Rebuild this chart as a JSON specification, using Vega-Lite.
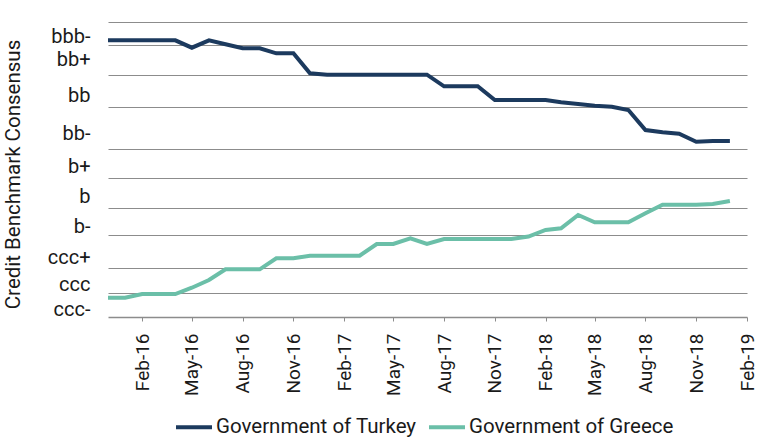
{
  "$schema": "https://vega.github.io/schema/vega-lite/v6.json",
  "autosize": "none",
  "width": 639,
  "height": 295,
  "padding": {"left": 108, "top": 22, "right": 21, "bottom": 127},
  "background": "white",
  "config": {
    "view": {"stroke": null},
    "font": "Roboto",
    "axis": {"labelFont": "Roboto", "titleFont": "Roboto", "labelColor": "#1a1a1a", "titleColor": "#1a1a1a"}
  },
  "data": {
    "values": [
      {"date": "2015-12-01", "Government of Turkey": 276.7, "Government of Greece": 19.3},
      {"date": "2016-01-01", "Government of Turkey": 276.7, "Government of Greece": 19.3},
      {"date": "2016-02-01", "Government of Turkey": 276.7, "Government of Greece": 23},
      {"date": "2016-03-01", "Government of Turkey": 276.7, "Government of Greece": 23},
      {"date": "2016-04-01", "Government of Turkey": 276.7, "Government of Greece": 23},
      {"date": "2016-05-01", "Government of Turkey": 269.3, "Government of Greece": 29.3},
      {"date": "2016-06-01", "Government of Turkey": 276.7, "Government of Greece": 37},
      {"date": "2016-07-01", "Government of Turkey": 272.7, "Government of Greece": 47.7},
      {"date": "2016-08-01", "Government of Turkey": 268.7, "Government of Greece": 47.7},
      {"date": "2016-09-01", "Government of Turkey": 268.7, "Government of Greece": 47.7},
      {"date": "2016-10-01", "Government of Turkey": 263.7, "Government of Greece": 58.7},
      {"date": "2016-11-01", "Government of Turkey": 263.7, "Government of Greece": 58.7},
      {"date": "2016-12-01", "Government of Turkey": 243.7, "Government of Greece": 61.3},
      {"date": "2017-01-01", "Government of Turkey": 242.3, "Government of Greece": 61.3},
      {"date": "2017-02-01", "Government of Turkey": 242.3, "Government of Greece": 61.3},
      {"date": "2017-03-01", "Government of Turkey": 242.3, "Government of Greece": 61.3},
      {"date": "2017-04-01", "Government of Turkey": 242.3, "Government of Greece": 73},
      {"date": "2017-05-01", "Government of Turkey": 242.3, "Government of Greece": 73},
      {"date": "2017-06-01", "Government of Turkey": 242.3, "Government of Greece": 78.7},
      {"date": "2017-07-01", "Government of Turkey": 242.3, "Government of Greece": 73},
      {"date": "2017-08-01", "Government of Turkey": 230.7, "Government of Greece": 78},
      {"date": "2017-09-01", "Government of Turkey": 230.7, "Government of Greece": 78},
      {"date": "2017-10-01", "Government of Turkey": 230.7, "Government of Greece": 78},
      {"date": "2017-11-01", "Government of Turkey": 217, "Government of Greece": 78},
      {"date": "2017-12-01", "Government of Turkey": 217, "Government of Greece": 78},
      {"date": "2018-01-01", "Government of Turkey": 217, "Government of Greece": 80.5},
      {"date": "2018-02-01", "Government of Turkey": 217, "Government of Greece": 87},
      {"date": "2018-03-01", "Government of Turkey": 214.7, "Government of Greece": 88.7},
      {"date": "2018-04-01", "Government of Turkey": 213, "Government of Greece": 102},
      {"date": "2018-05-01", "Government of Turkey": 211.3, "Government of Greece": 94.7},
      {"date": "2018-06-01", "Government of Turkey": 210.3, "Government of Greece": 94.7},
      {"date": "2018-07-01", "Government of Turkey": 207, "Government of Greece": 94.7},
      {"date": "2018-08-01", "Government of Turkey": 187, "Government of Greece": 103.7},
      {"date": "2018-09-01", "Government of Turkey": 184.7, "Government of Greece": 112.3},
      {"date": "2018-10-01", "Government of Turkey": 183.3, "Government of Greece": 112.3},
      {"date": "2018-11-01", "Government of Turkey": 175.3, "Government of Greece": 112.3},
      {"date": "2018-12-01", "Government of Turkey": 176, "Government of Greece": 113},
      {"date": "2019-01-01", "Government of Turkey": 176, "Government of Greece": 116}
    ]
  },
  "transform": [
    {"fold": ["Government of Turkey", "Government of Greece"], "as": ["series", "score"]}
  ],
  "mark": {"type": "line", "strokeWidth": 4, "strokeJoin": "miter", "strokeCap": "butt"},
  "encoding": {
    "x": {
      "field": "date",
      "type": "temporal",
      "scale": {
        "type": "utc",
        "domain": [
          {"year": 2015, "month": 12, "date": 1, "utc": true},
          {"year": 2019, "month": 2, "date": 1, "utc": true}
        ],
        "nice": false
      },
      "axis": {
        "title": null,
        "grid": false,
        "format": "%b-%y",
        "labelAngle": -90,
        "labelFontSize": 19,
        "labelPadding": 12,
        "tickSize": 4,
        "tickColor": "#8c8c8c",
        "domainColor": "#8c8c8c",
        "domainWidth": 1.5,
        "labelFlush": false,
        "labelOverlap": false,
        "values": [
          {"year": 2016, "month": 2, "date": 1, "utc": true},
          {"year": 2016, "month": 5, "date": 1, "utc": true},
          {"year": 2016, "month": 8, "date": 1, "utc": true},
          {"year": 2016, "month": 11, "date": 1, "utc": true},
          {"year": 2017, "month": 2, "date": 1, "utc": true},
          {"year": 2017, "month": 5, "date": 1, "utc": true},
          {"year": 2017, "month": 8, "date": 1, "utc": true},
          {"year": 2017, "month": 11, "date": 1, "utc": true},
          {"year": 2018, "month": 2, "date": 1, "utc": true},
          {"year": 2018, "month": 5, "date": 1, "utc": true},
          {"year": 2018, "month": 8, "date": 1, "utc": true},
          {"year": 2018, "month": 11, "date": 1, "utc": true},
          {"year": 2019, "month": 2, "date": 1, "utc": true}
        ]
      }
    },
    "y": {
      "field": "score",
      "type": "quantitative",
      "scale": {"domain": [0, 295], "nice": false, "zero": false},
      "axis": {
        "title": "Credit Benchmark Consensus",
        "titleFontSize": 20.5,
        "titleFontWeight": "normal",
        "titlePadding": 24,
        "titleY": 152,
        "domain": false,
        "ticks": false,
        "labelFontSize": 20,
        "labelPadding": 18,
        "labelOverlap": false,
        "labelFlush": false,
        "values": [295, 272, 242, 210, 167.5, 139, 109, 82, 49, 24, 281, 258, 222, 184, 151, 121, 91, 60, 33, 8],
        "labelExpr": "datum.value == 281 ? 'bbb-' : datum.value == 258 ? 'bb+' : datum.value == 222 ? 'bb' : datum.value == 184 ? 'bb-' : datum.value == 151 ? 'b+' : datum.value == 121 ? 'b' : datum.value == 91 ? 'b-' : datum.value == 60 ? 'ccc+' : datum.value == 33 ? 'ccc' : datum.value == 8 ? 'ccc-' : ''",
        "grid": true,
        "gridColor": "#8c8c8c",
        "gridWidth": 1.2,
        "gridOpacity": {
          "condition": {"test": "indexof([295, 272, 242, 210, 167.5, 139, 109, 82, 49, 24], datum.value) >= 0", "value": 1},
          "value": 0
        }
      }
    },
    "color": {
      "field": "series",
      "type": "nominal",
      "sort": ["Government of Turkey", "Government of Greece"],
      "scale": {"domain": ["Government of Turkey", "Government of Greece"], "range": ["#1c3a5e", "#6bbfa8"]},
      "legend": {
        "title": null,
        "orient": "none",
        "direction": "horizontal",
        "legendX": 66,
        "legendY": 385,
        "symbolType": "stroke",
        "symbolSize": 1296,
        "symbolStrokeWidth": 4,
        "labelFontSize": 20.5,
        "labelFont": "Roboto",
        "labelColor": "#1a1a1a",
        "labelOffset": 2,
        "columnPadding": 4,
        "labelLimit": 400
      }
    }
  }
}
